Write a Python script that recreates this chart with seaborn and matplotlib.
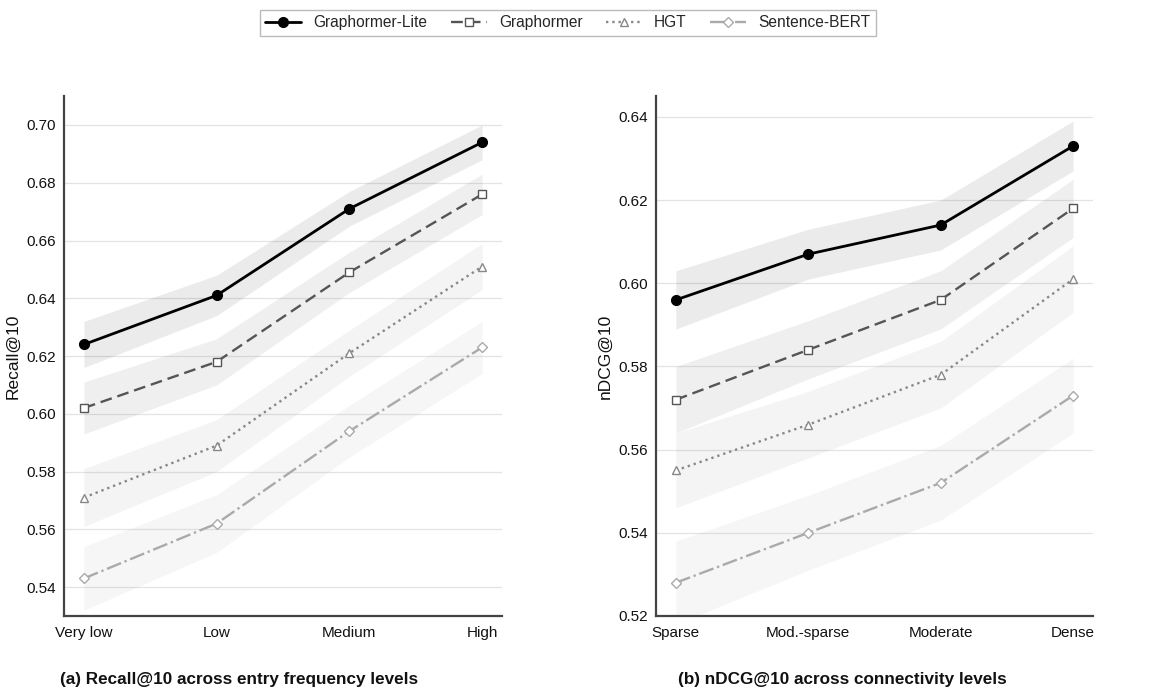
import matplotlib
matplotlib.use("Agg")
import matplotlib.pyplot as plt
import seaborn as sns
import numpy as np
import pandas as pd

methods = ["Graphormer-Lite", "Graphormer", "HGT", "Sentence-BERT"]

freq_levels = ["Very low", "Low", "Medium", "High"]
recall_lite = [0.624, 0.641, 0.671, 0.694]
recall_graphormer = [0.602, 0.618, 0.649, 0.676]
recall_hgt = [0.571, 0.589, 0.621, 0.651]
recall_sbert = [0.543, 0.562, 0.594, 0.623]
recall_err_lite = [0.008, 0.007, 0.006, 0.006]
recall_err_graphormer = [0.009, 0.008, 0.007, 0.007]
recall_err_hgt = [0.010, 0.009, 0.008, 0.008]
recall_err_sbert = [0.011, 0.010, 0.009, 0.009]

conn_levels = ["Sparse", "Mod.-sparse", "Moderate", "Dense"]
ndcg_lite = [0.596, 0.607, 0.614, 0.633]
ndcg_graphormer = [0.572, 0.584, 0.596, 0.618]
ndcg_hgt = [0.555, 0.566, 0.578, 0.601]
ndcg_sbert = [0.528, 0.540, 0.552, 0.573]
ndcg_err_lite = [0.007, 0.006, 0.006, 0.006]
ndcg_err_graphormer = [0.008, 0.007, 0.007, 0.007]
ndcg_err_hgt = [0.009, 0.008, 0.008, 0.008]
ndcg_err_sbert = [0.010, 0.009, 0.009, 0.009]

styles = {
    "Graphormer-Lite": dict(color="#000000", ls="-", marker="o", mfc="#000000", lw=2.0, ms=7, alpha=0.08),
    "Graphormer": dict(color="#555555", ls=(0, (5, 2.5)), marker="s", mfc="white", lw=1.7, ms=6, alpha=0.09),
    "HGT": dict(color="#888888", ls=":", marker="^", mfc="white", lw=1.7, ms=6, alpha=0.09),
    "Sentence-BERT": dict(color="#aaaaaa", ls="-.", marker="D", mfc="white", lw=1.7, ms=5.5, alpha=0.1),
}

sns.set_theme(style="white")
plt.rcParams["font.family"] = ["Liberation Sans", "DejaVu Sans"]

fig = plt.figure(figsize=(11.59, 6.95), dpi=100)
ax1 = fig.add_axes([0.0552, 0.1137, 0.378, 0.748])
ax2 = fig.add_axes([0.566, 0.1137, 0.377, 0.748])


def draw_panel(ax, levels, vals, errs, ylabel, ylim, yticks):
    x = np.arange(len(levels))
    for m in methods:
        st = styles[m]
        v = np.array(vals[m])
        e = np.array(errs[m])
        ax.fill_between(x, v - e, v + e, color=st["color"], alpha=st["alpha"], lw=0, zorder=1)
    for m in methods:
        st = styles[m]
        df = pd.DataFrame({"x": x, "y": vals[m]})
        sns.lineplot(data=df, x="x", y="y", ax=ax, color=st["color"], linestyle=st["ls"],
                     marker=st["marker"], markerfacecolor=st["mfc"], markeredgecolor=st["color"],
                     markeredgewidth=1.0, linewidth=st["lw"], markersize=st["ms"], label=m, zorder=3)
    ax.set_xticks(x)
    ax.set_xticklabels(levels)
    ax.set_xlim(-0.15, len(levels) - 1 + 0.15)
    ax.set_ylim(*ylim)
    ax.set_yticks(yticks)
    ax.set_yticklabels([f"{t:.2f}" for t in yticks])
    ax.set_xlabel("")
    ax.set_ylabel(ylabel, fontsize=12.5, color="#111111", labelpad=4)
    ax.yaxis.grid(True, color="#e3e3e3", lw=0.9)
    ax.xaxis.grid(False)
    for s in ["top", "right"]:
        ax.spines[s].set_visible(False)
    for s in ["left", "bottom"]:
        ax.spines[s].set_color("#444444")
        ax.spines[s].set_linewidth(1.6)
    ax.tick_params(axis="x", length=4, width=1, color="#444444", labelsize=11, labelcolor="#111111", pad=3)
    ax.tick_params(axis="y", length=3, width=1, color="#444444", labelsize=11, labelcolor="#111111", pad=3)
    ax.get_legend().remove()


draw_panel(ax1, freq_levels,
           {"Graphormer-Lite": recall_lite, "Graphormer": recall_graphormer,
            "HGT": recall_hgt, "Sentence-BERT": recall_sbert},
           {"Graphormer-Lite": recall_err_lite, "Graphormer": recall_err_graphormer,
            "HGT": recall_err_hgt, "Sentence-BERT": recall_err_sbert},
           "Recall@10", (0.53, 0.71), np.arange(0.54, 0.701, 0.02))

draw_panel(ax2, conn_levels,
           {"Graphormer-Lite": ndcg_lite, "Graphormer": ndcg_graphormer,
            "HGT": ndcg_hgt, "Sentence-BERT": ndcg_sbert},
           {"Graphormer-Lite": ndcg_err_lite, "Graphormer": ndcg_err_graphormer,
            "HGT": ndcg_err_hgt, "Sentence-BERT": ndcg_err_sbert},
           "nDCG@10", (0.52, 0.645), np.arange(0.52, 0.641, 0.02))

handles, labels = ax1.get_legend_handles_labels()
leg = fig.legend(handles, labels, loc="upper center", bbox_to_anchor=(0.49, 0.997), ncol=4,
                 frameon=True, fancybox=False, fontsize=11.2, handlelength=2.3, columnspacing=1.5,
                 borderpad=0.35)
leg.get_frame().set_edgecolor("#aaaaaa")
leg.get_frame().set_linewidth(1.0)

fig.text(0.206, 0.022, "(a) Recall@10 across entry frequency levels", ha="center", va="center",
         fontsize=12.3, fontweight="bold", color="#111111")
fig.text(0.727, 0.022, "(b) nDCG@10 across connectivity levels", ha="center", va="center",
         fontsize=12.3, fontweight="bold", color="#111111")

fig.savefig("out.png", dpi=100)
